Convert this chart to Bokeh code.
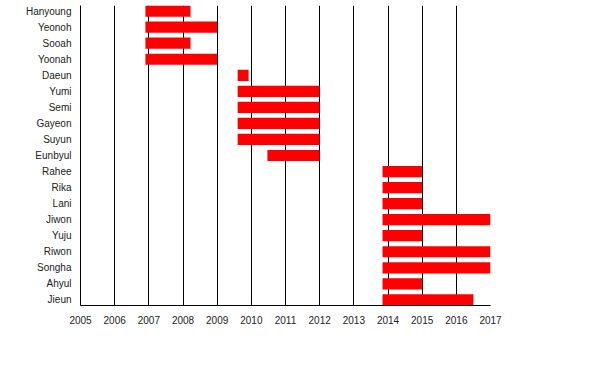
from bokeh.plotting import figure
from bokeh.models import Range1d, FixedTicker, ColumnDataSource
from bokeh.embed import file_html
from bokeh.resources import INLINE

names = ["Hanyoung", "Yeonoh", "Sooah", "Yoonah", "Daeun", "Yumi", "Semi", "Gayeon",
         "Suyun", "Eunbyul", "Rahee", "Rika", "Lani", "Jiwon", "Yuju", "Riwon",
         "Songha", "Ahyul", "Jieun"]
starts = [2006.9, 2006.9, 2006.9, 2006.9, 2009.6, 2009.6, 2009.6, 2009.6,
          2009.6, 2010.47, 2013.84, 2013.84, 2013.84, 2013.84, 2013.84, 2013.84,
          2013.84, 2013.84, 2013.84]
ends = [2008.22, 2009.0, 2008.22, 2009.0, 2009.92, 2012.0, 2012.0, 2012.0,
        2012.0, 2012.0, 2015.0, 2015.0, 2015.0, 2017.0, 2015.0, 2017.0,
        2017.0, 2015.0, 2016.5]
years = list(range(2005, 2018))

idx = list(range(len(names)))
src = ColumnDataSource(dict(y=idx, left=starts, right=ends, name=names))

p = figure(width=590, height=360, output_backend="svg", toolbar_location=None,
           x_range=Range1d(2005, 2017), y_range=Range1d(18.35, -0.35),
           min_border_left=80, min_border_right=100, min_border_top=5,
           min_border_bottom=55)
p.outline_line_color = None
p.background_fill_color = "white"

p.hbar(y="y", left="left", right="right", height=0.7, source=src,
       fill_color="#ff0000", line_color=None)

font = "Liberation Sans"
p.xaxis.ticker = FixedTicker(ticks=years, minor_ticks=[])
p.xaxis.major_tick_in = 0
p.xaxis.major_tick_out = 0
p.xaxis.minor_tick_line_color = None
p.xaxis.axis_line_color = "black"
p.xaxis.major_label_text_font = font
p.xaxis.major_label_text_font_size = "10px"
p.xaxis.major_label_text_color = "#222222"
p.xaxis.major_label_standoff = 10

p.yaxis.ticker = FixedTicker(ticks=idx, minor_ticks=[])
p.yaxis.major_label_overrides = {i: n for i, n in enumerate(names)}
p.yaxis.major_tick_in = 0
p.yaxis.major_tick_out = 0
p.yaxis.minor_tick_line_color = None
p.yaxis.axis_line_color = "black"
p.yaxis.major_label_text_font = font
p.yaxis.major_label_text_font_size = "10px"
p.yaxis.major_label_text_color = "#222222"
p.yaxis.major_label_standoff = 9

p.xgrid.ticker = FixedTicker(ticks=years)
p.xgrid.grid_line_color = "black"
p.xgrid.grid_line_alpha = 1.0
p.xgrid.grid_line_width = 1
p.ygrid.grid_line_color = None

open("out.html", "w").write(file_html(p, INLINE))
